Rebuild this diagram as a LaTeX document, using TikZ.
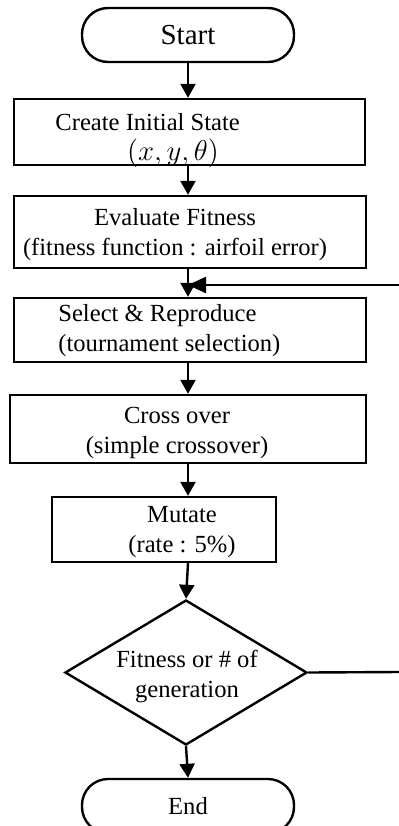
\documentclass[tikz,border=0pt]{standalone}
\usepackage{fontspec}
\setmainfont{Liberation Serif}
\usetikzlibrary{arrows.meta,shapes.geometric}

\begin{document}
\begin{tikzpicture}[x=0.5pt,y=-0.5pt,
    terminal/.style ={draw, line width=1.2pt, rounded corners=13pt, minimum width=106pt, minimum height=27pt, inner sep=0pt, font=\fontsize{12.3}{15}\selectfont},
    process/.style ={draw, line width=1.2pt, inner sep=0pt},
    decision/.style ={diamond, draw, line width=1.2pt, inner sep=0pt},
    caption/.style ={font=\fontsize{12.3}{15}\selectfont, align=center, inner sep=0pt},
    flow/.style ={line width=1.2pt, -{Triangle[length=7pt,width=7.5pt]}}]
   \useasboundingbox (0,0) rectangle (399,826);
   \coordinate (axis) at (188,0);

   \node[terminal, font=\fontsize{14.5}{17}\selectfont] (start) at (188,35)  {Start};
   \node[process, minimum width=175.5pt, minimum height=33pt] (init) at (189.5,132) {};
   \node[process, minimum width=176pt, minimum height=36pt] (eval) at (190,232) {};
   \node[process, minimum width=176pt, minimum height=32pt] (select) at (190,330) {};
   \node[process, minimum width=178pt, minimum height=34pt] (cross) at (188,429) {};
   \node[process, minimum width=112pt, minimum height=32.5pt] (mutate) at (164,529.5) {};
   \node[decision, minimum width=121pt, minimum height=72.5pt] (test) at (186,672.5) {};
   \node[terminal] (stop) at (188,806)  {End};

   \node[caption, anchor=west] (initlbl) at (55,122) {Create Initial State};
   \node[caption, font=\fontsize{15}{18}\selectfont] (initvar) at (173,153) {$(x, y, \theta)$};
   \node[caption] (evallbl) at (175,235) {Evaluate Fitness\\(fitness function : airfoil error)};
   \node[caption, anchor=west, align=left] (selectlbl) at (58,331) {Select \& Reproduce\\(tournament selection)};
   \node[caption] (crosslbl) at (177,433) {Cross over\\(simple crossover)};
   \node[caption] (mutatelbl) at (182,532) {Mutate\\(rate : 5\%)};
   \node[caption] (testlbl) at (187,676) {Fitness or \# of\\generation};

   \draw[flow] (start.south) -- (init.north -| axis);
   \draw[flow] (init.south -| axis) -- (eval.north -| axis);
   \draw[flow] (eval.south -| axis) -- (select.north -| axis);
   \draw[flow] (select.south -| axis) -- (cross.north -| axis);
   \draw[flow] (cross.south -| axis) -- (mutate.north -| axis);
   \draw[flow] (mutate.south -| axis) -- (test.north);
   \draw[flow] (test.south) -- (stop.north);

   % loop back from the test
   \coordinate (fbout) at (399,672);
   \coordinate (fbin) at (399,285);
   \draw[line width=1.2pt] (test.east) -- (fbout);
   \draw[line width=1.2pt, -{Triangle[length=9pt,width=8pt]}] (fbin) -- (fbin -| axis);

\end{tikzpicture}
\end{document}
